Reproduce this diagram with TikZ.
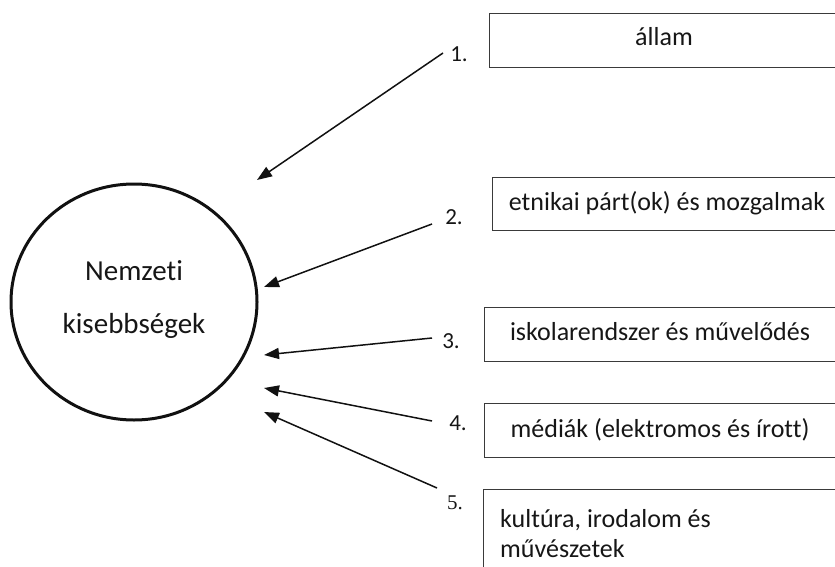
\documentclass[tikz,border=0pt]{standalone}
\usepackage{fontspec}
\setmainfont{Carlito}[Ligatures=NoCommon]
\newfontfamily\numserif{Liberation Serif}
\usetikzlibrary{arrows.meta,shapes.geometric}

\definecolor{txt}{HTML}{161616}
\definecolor{boxgray}{HTML}{3A3A3A}
\definecolor{ink}{HTML}{111111}

\begin{document}
\begin{tikzpicture}[x=1pt,y=-1pt,
  box/.style={draw=boxgray,line width=1.3pt,inner sep=0pt,anchor=north west},
  boxtext/.style={anchor=base,font=\fontsize{26}{31}\selectfont,text=txt,inner sep=0pt},
  boxtextl/.style={anchor=base west,font=\fontsize{26}{31}\selectfont,text=txt,inner sep=0pt},
  circtext/.style={anchor=base,font=\fontsize{29}{35}\selectfont,text=txt,inner sep=0pt},
  numlabel/.style={font=\fontsize{23}{23}\selectfont,text=txt,inner sep=0pt},
  link/.style={draw=ink,line width=1.5pt,-{Triangle[length=15pt,width=11pt]}},
]
\useasboundingbox (0,0) rectangle (835,567);
\clip (0,0) rectangle (835,567);

% central ellipse with its two lines of text
\node[ellipse,draw=ink,line width=3pt,minimum width=246pt,minimum height=236pt,inner sep=0pt]
  (nk) at (134,302) {};
\node[circtext] (nk1) at (134,280) {Nemzeti};
\node[circtext] (nk2) at (134,333) {kisebbségek};

% the five boxes on the right
\node[box,minimum width=346pt,minimum height=54pt] (b1) at (489,13) {};
\node[box,minimum width=343pt,minimum height=53pt] (b2) at (492,177) {};
\node[box,minimum width=351pt,minimum height=54pt] (b3) at (484,307) {};
\node[box,minimum width=351pt,minimum height=54pt] (b4) at (484,403) {};
\node[box,minimum width=352pt,minimum height=110pt] (b5) at (483,489) {};

\node[boxtext] (t1) at (664,46) {állam};
\node[boxtext] (t2) at (667,210) {etnikai párt(ok) és mozgalmak};
\node[boxtext] (t3) at (660,340) {iskolarendszer és művelődés};
\node[boxtext] (t4) at (660,437) {médiák (elektromos és írott)};
\node[boxtextl] (t5a) at (500,527) {kultúra, irodalom és};
\node[boxtextl] (t5b) at (500,557) {művészetek};

% numbered labels
\node[numlabel] (n1) at (459,54) {1.};
\node[numlabel] (n2) at (454,217) {2.};
\node[numlabel] (n3) at (451,341) {3.};
\node[numlabel] (n4) at (458,423) {4.};
\node[numlabel,font=\numserif\fontsize{21}{21}\selectfont] (n5) at (455,503) {5.};

% arrow start and tip points
\coordinate (s1) at (443,53);  \coordinate (e1) at (257,180);
\coordinate (s2) at (432,224); \coordinate (e2) at (264,287);
\coordinate (s3) at (432,338); \coordinate (e3) at (264,355);
\coordinate (s4) at (432,421); \coordinate (e4) at (264,388);
\coordinate (s5) at (437,488); \coordinate (e5) at (264,412);

\draw[link] (s1) -- (e1);
\draw[link] (s2) -- (e2);
\draw[link] (s3) -- (e3);
\draw[link] (s4) -- (e4);
\draw[link] (s5) -- (e5);
\end{tikzpicture}
\end{document}
